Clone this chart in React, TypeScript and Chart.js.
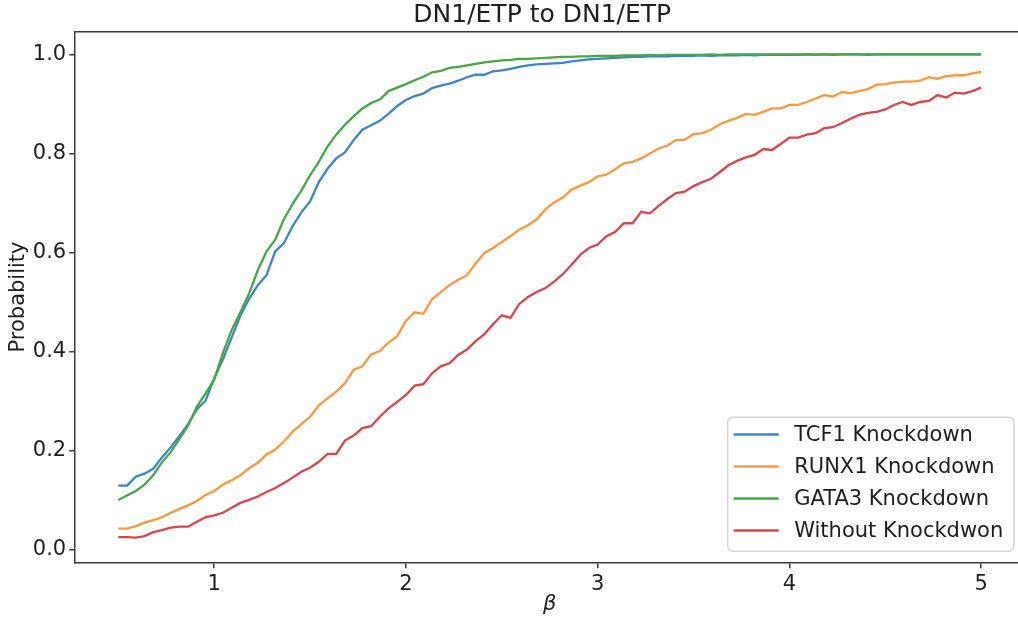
import React, { useEffect, useRef } from "react";
import { Chart, registerables } from "chart.js";

Chart.register(...registerables);

const TITLE = "DN1/ETP to DN1/ETP";
const X_LABEL = "β";
const Y_LABEL = "Probability";
const X_TICKS = [1, 2, 3, 4, 5];
const Y_TICKS = [0, 0.2, 0.4, 0.6, 0.8, 1.0];
const SERIES_LABELS = ["TCF1 Knockdown", "RUNX1 Knockdown", "GATA3 Knockdown", "Without Knockdwon"];
const COLORS = ["#3b86c3", "#ff983f", "#44a844", "#d9464a"];

const BETA = [
  0.5, 0.5455, 0.5909, 0.6364, 0.6818, 0.7273, 0.7727, 0.8182, 0.8636, 0.9091, 0.9545,
  1.0, 1.0455, 1.0909, 1.1364, 1.1818, 1.2273, 1.2727, 1.3182, 1.3636, 1.4091, 1.4545,
  1.5, 1.5455, 1.5909, 1.6364, 1.6818, 1.7273, 1.7727, 1.8182, 1.8636, 1.9091, 1.9545,
  2.0, 2.0455, 2.0909, 2.1364, 2.1818, 2.2273, 2.2727, 2.3182, 2.3636, 2.4091, 2.4545,
  2.5, 2.5455, 2.5909, 2.6364, 2.6818, 2.7273, 2.7727, 2.8182, 2.8636, 2.9091, 2.9545,
  3.0, 3.0455, 3.0909, 3.1364, 3.1818, 3.2273, 3.2727, 3.3182, 3.3636, 3.4091, 3.4545,
  3.5, 3.5455, 3.5909, 3.6364, 3.6818, 3.7273, 3.7727, 3.8182, 3.8636, 3.9091, 3.9545,
  4.0, 4.0455, 4.0909, 4.1364, 4.1818, 4.2273, 4.2727, 4.3182, 4.3636, 4.4091, 4.4545,
  4.5, 4.5455, 4.5909, 4.6364, 4.6818, 4.7273, 4.7727, 4.8182, 4.8636, 4.9091, 4.9545,
  5.0,
];

const TCF1 = [
  0.129, 0.129, 0.147, 0.153, 0.163, 0.186, 0.206, 0.229, 0.253, 0.283,
  0.300, 0.346, 0.384, 0.428, 0.472, 0.506, 0.534, 0.554, 0.602, 0.619,
  0.653, 0.681, 0.703, 0.742, 0.769, 0.790, 0.802, 0.827, 0.848, 0.857,
  0.866, 0.880, 0.896, 0.908, 0.916, 0.921, 0.932, 0.937, 0.941, 0.947,
  0.954, 0.959, 0.959, 0.966, 0.968, 0.971, 0.975, 0.978, 0.980, 0.981,
  0.982, 0.983, 0.986, 0.988, 0.990, 0.991, 0.992, 0.993, 0.994, 0.995,
  0.995, 0.996, 0.996, 0.996, 0.997, 0.997, 0.997, 0.998, 0.997, 0.998,
  0.998, 0.998, 0.999, 0.998, 0.999, 0.999, 0.999, 0.999, 0.999, 1.000,
  0.999, 1.000, 0.999, 1.000, 1.000, 1.000, 0.999, 1.000, 1.000, 1.000,
  1.000, 1.000, 1.000, 1.000, 1.000, 1.000, 1.000, 1.000, 1.000, 1.000,
];

const RUNX1 = [
  0.042, 0.042, 0.047, 0.054, 0.059, 0.065, 0.074, 0.082, 0.089, 0.098,
  0.110, 0.118, 0.131, 0.140, 0.150, 0.164, 0.175, 0.192, 0.202, 0.218,
  0.238, 0.253, 0.268, 0.291, 0.305, 0.319, 0.336, 0.363, 0.370, 0.394,
  0.401, 0.418, 0.431, 0.462, 0.479, 0.476, 0.506, 0.520, 0.534, 0.545,
  0.554, 0.578, 0.599, 0.609, 0.621, 0.633, 0.646, 0.655, 0.667, 0.687,
  0.701, 0.711, 0.727, 0.735, 0.742, 0.754, 0.757, 0.768, 0.780, 0.783,
  0.790, 0.800, 0.810, 0.816, 0.827, 0.828, 0.839, 0.841, 0.848, 0.859,
  0.866, 0.872, 0.880, 0.878, 0.884, 0.891, 0.891, 0.898, 0.898, 0.904,
  0.911, 0.918, 0.915, 0.924, 0.922, 0.926, 0.930, 0.939, 0.940, 0.943,
  0.945, 0.945, 0.947, 0.954, 0.951, 0.956, 0.958, 0.958, 0.962, 0.965,
];

const GATA3 = [
  0.100, 0.109, 0.118, 0.131, 0.150, 0.176, 0.196, 0.223, 0.250, 0.288,
  0.315, 0.343, 0.397, 0.443, 0.479, 0.517, 0.564, 0.602, 0.626, 0.667,
  0.698, 0.725, 0.756, 0.783, 0.814, 0.838, 0.858, 0.875, 0.891, 0.902,
  0.909, 0.926, 0.933, 0.940, 0.948, 0.955, 0.964, 0.967, 0.973, 0.975,
  0.978, 0.981, 0.984, 0.986, 0.988, 0.989, 0.991, 0.991, 0.992, 0.993,
  0.994, 0.995, 0.995, 0.996, 0.996, 0.997, 0.997, 0.997, 0.998, 0.998,
  0.998, 0.999, 0.998, 0.999, 0.999, 0.999, 0.999, 0.999, 1.000, 0.999,
  1.000, 1.000, 1.000, 1.000, 1.000, 1.000, 1.000, 1.000, 1.000, 1.000,
  1.000, 1.000, 1.000, 1.000, 1.000, 1.000, 1.000, 1.000, 1.000, 1.000,
  1.000, 1.000, 1.000, 1.000, 1.000, 1.000, 1.000, 1.000, 1.000, 1.000,
];

const WITHOUT = [
  0.025, 0.025, 0.024, 0.027, 0.035, 0.039, 0.044, 0.046, 0.046, 0.056,
  0.065, 0.069, 0.074, 0.084, 0.094, 0.100, 0.107, 0.116, 0.124, 0.134,
  0.145, 0.157, 0.165, 0.177, 0.193, 0.193, 0.220, 0.230, 0.245, 0.249,
  0.268, 0.285, 0.298, 0.312, 0.331, 0.334, 0.356, 0.370, 0.376, 0.393,
  0.404, 0.421, 0.435, 0.455, 0.473, 0.468, 0.496, 0.510, 0.520, 0.528,
  0.541, 0.556, 0.575, 0.595, 0.609, 0.616, 0.633, 0.641, 0.659, 0.659,
  0.682, 0.679, 0.694, 0.708, 0.720, 0.723, 0.734, 0.742, 0.749, 0.762,
  0.776, 0.785, 0.792, 0.797, 0.809, 0.807, 0.819, 0.832, 0.832, 0.838,
  0.841, 0.851, 0.853, 0.861, 0.870, 0.878, 0.882, 0.884, 0.889, 0.898,
  0.904, 0.898, 0.904, 0.906, 0.918, 0.913, 0.923, 0.921, 0.926, 0.933,
];

const SERIES = [TCF1, RUNX1, GATA3, WITHOUT];

const FONT = "'DejaVu Sans', 'Liberation Sans', sans-serif";
const AXIS_COLOR = "#3a3a3a";
const TEXT_COLOR = "#1e1e1e";

const decorPlugin = {
  id: "decor",
  afterDraw(chart: any) {
    const { ctx, chartArea: ca } = chart;
    ctx.save();
    // top and right spines
    ctx.strokeStyle = AXIS_COLOR;
    ctx.lineWidth = 1.5;
    ctx.beginPath();
    ctx.moveTo(ca.left, ca.top);
    ctx.lineTo(ca.right, ca.top);
    ctx.lineTo(ca.right, ca.bottom);
    ctx.stroke();

    // title
    ctx.fillStyle = TEXT_COLOR;
    ctx.font = `25px ${FONT}`;
    ctx.textAlign = "center";
    ctx.textBaseline = "middle";
    ctx.fillText(TITLE, (ca.left + ca.right) / 2 - 7.5, 15.5);

    // legend (lower right)
    const boxW = 286;
    const boxH = 134;
    const boxRight = ca.right - 11;
    const boxBottom = ca.bottom - 11.6;
    const boxLeft = boxRight - boxW;
    const boxTop = boxBottom - boxH;
    ctx.beginPath();
    (ctx as any).roundRect(boxLeft + 0.5, boxTop + 0.5, boxW, boxH, 5);
    ctx.fillStyle = "rgba(255,255,255,0.8)";
    ctx.fill();
    ctx.strokeStyle = "#d4d4d4";
    ctx.lineWidth = 1.5;
    ctx.stroke();
    ctx.font = `21px ${FONT}`;
    ctx.textAlign = "left";
    ctx.textBaseline = "middle";
    SERIES_LABELS.forEach((label, i) => {
      const y = boxTop + 17.8 + i * 32;
      ctx.strokeStyle = COLORS[i];
      ctx.lineWidth = 2.3;
      ctx.beginPath();
      ctx.moveTo(boxLeft + 6.5, y);
      ctx.lineTo(boxLeft + 51.5, y);
      ctx.stroke();
      ctx.fillStyle = TEXT_COLOR;
      ctx.fillText(label, boxLeft + 67, y + 1);
    });
    ctx.restore();
  },
};

export default function App() {
  const canvasRef = useRef<HTMLCanvasElement | null>(null);

  useEffect(() => {
    const canvas = canvasRef.current;
    if (!canvas) return;
    const datasets = SERIES.map((values, i) => ({
      label: SERIES_LABELS[i],
      data: values.map((v, j) => ({ x: BETA[j], y: v })),
      borderColor: COLORS[i],
      backgroundColor: COLORS[i],
      borderWidth: 2.3,
      pointRadius: 0,
      tension: 0,
      fill: false,
      order: SERIES.length - 1 - i,
    }));

    const chart = new Chart(canvas, {
      type: "line",
      data: { datasets },
      options: {
        animation: false,
        responsive: false,
        devicePixelRatio: 1,
        layout: { padding: { top: 31.7, right: 15.8, left: 0, bottom: 0 } },
        plugins: {
          legend: { display: false },
          title: { display: false },
          tooltip: { enabled: false },
        },
        scales: {
          x: {
            type: "linear",
            min: 0.275,
            max: 5.225,
            afterBuildTicks: (scale: any) => {
              scale.ticks = X_TICKS.map((v) => ({ value: v }));
            },
            afterFit: (scale: any) => {
              scale.height = 58.7;
            },
            ticks: {
              color: TEXT_COLOR,
              font: { family: FONT, size: 21 },
              padding: 4,
              maxRotation: 0,
              autoSkip: false,
              callback: (v: any) => String(v),
            },
            grid: {
              drawOnChartArea: false,
              drawTicks: true,
              tickLength: 6,
              color: AXIS_COLOR,
              lineWidth: 1.5,
            },
            border: { display: true, color: AXIS_COLOR, width: 1.5 },
            title: {
              display: true,
              text: X_LABEL,
              color: TEXT_COLOR,
              font: { family: FONT, size: 21, style: "italic" },
              padding: { top: 0, bottom: 3.7 },
            },
          },
          y: {
            type: "linear",
            min: -0.026,
            max: 1.046,
            afterBuildTicks: (scale: any) => {
              scale.ticks = Y_TICKS.map((v) => ({ value: v }));
            },
            afterFit: (scale: any) => {
              scale.width = 75.2;
            },
            ticks: {
              color: TEXT_COLOR,
              font: { family: FONT, size: 21 },
              padding: 3,
              autoSkip: false,
              callback: (v: any) => Number(v).toFixed(1),
            },
            grid: {
              drawOnChartArea: false,
              drawTicks: true,
              tickLength: 6,
              color: AXIS_COLOR,
              lineWidth: 1.5,
            },
            border: { display: true, color: AXIS_COLOR, width: 1.5 },
            title: {
              display: true,
              text: Y_LABEL,
              color: TEXT_COLOR,
              font: { family: FONT, size: 21 },
              padding: { top: 5.5, bottom: 0 },
            },
          },
        },
      },
      plugins: [decorPlugin],
    });
    return () => chart.destroy();
  }, []);

  return (
    <div
      style={{
        position: "absolute",
        left: 0,
        top: 0,
        width: 1018,
        height: 621,
        overflow: "hidden",
        background: "#ffffff",
      }}
    >
      <canvas ref={canvasRef} width={1040} height={621} style={{ display: "block", width: 1040, height: 621 }} />
    </div>
  );
}
